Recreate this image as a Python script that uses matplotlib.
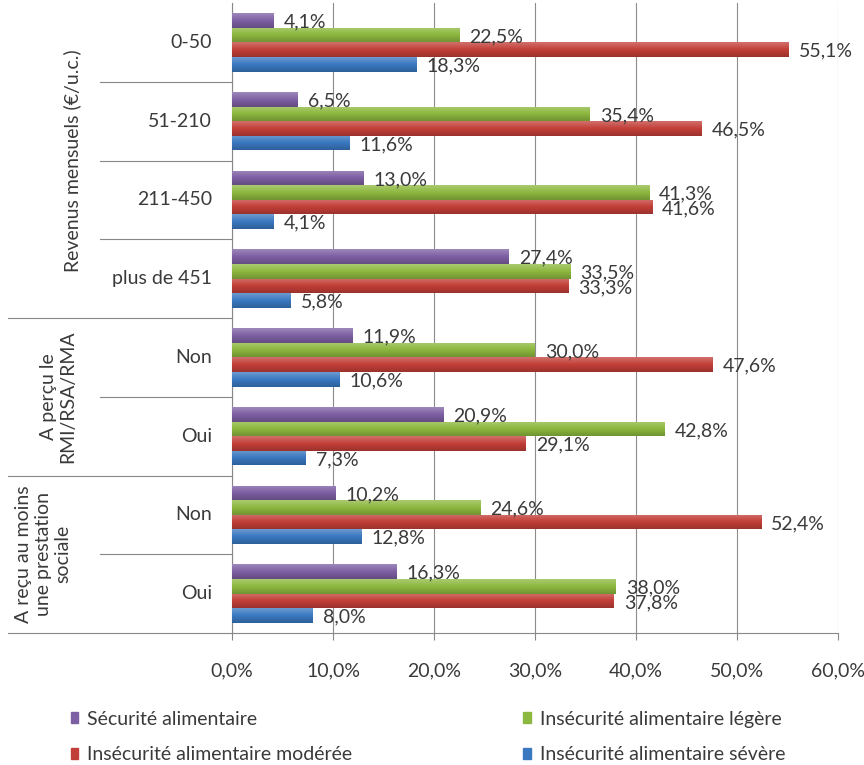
import matplotlib.pyplot as plt
import matplotlib.transforms as mtransforms
import numpy as np
from matplotlib.colors import LinearSegmentedColormap, to_rgb

plt.rcParams['font.family'] = ['Lato', 'DejaVu Sans']

# categories, top to bottom
categories = ['0-50', '51-210', '211-450', 'plus de 451', 'Non', 'Oui', 'Non', 'Oui']
series_names = ['Sécurité alimentaire', 'Insécurité alimentaire légère',
                'Insécurité alimentaire modérée', 'Insécurité alimentaire sévère']
securite = [4.1, 6.5, 13.0, 27.4, 11.9, 20.9, 10.2, 16.3]
legere = [22.5, 35.4, 41.3, 33.5, 30.0, 42.8, 24.6, 38.0]
moderee = [55.1, 46.5, 41.6, 33.3, 47.6, 29.1, 52.4, 37.8]
severe = [18.3, 11.6, 4.1, 5.8, 10.6, 7.3, 12.8, 8.0]
groups = ['Revenus mensuels (€/u.c.)', 'A perçu le\nRMI/RSA/RMA',
          'A reçu au moins\nune prestation\nsociale']
group_sizes = [4, 2, 2]
xticks = [0, 10, 20, 30, 40, 50, 60]

colors = ['#7D5FA3', '#8DB83F', '#C23F38', '#3A78C0']
values = [securite, legere, moderee, severe]
FS = 14
TXT = '#3a3a3a'

fig = plt.figure(figsize=(8.64, 7.65), dpi=100)
ax = fig.add_axes([232 / 864, 1 - 633 / 765, 606 / 864, 630 / 765])

n = len(categories)
y = np.arange(n)
bh = 0.185


def shade(c, f):
    r = np.array(to_rgb(c))
    if f > 0:
        return tuple(r + (1 - r) * f)
    return tuple(r * (1 + f))


for i, (vals, col) in enumerate(zip(values, colors)):
    pos = y + (i - 1.5) * bh
    bars = ax.barh(pos, vals, height=bh, color=col, zorder=3, edgecolor='none')
    cmap = LinearSegmentedColormap.from_list(
        'g', [shade(col, 0.25), col, shade(col, -0.2)])
    grad = np.linspace(0, 1, 32).reshape(-1, 1)
    for b, v, p in zip(bars, vals, pos):
        im = ax.imshow(grad, cmap=cmap, aspect='auto', zorder=4,
                       extent=[0, v, p + bh / 2, p - bh / 2], interpolation='bilinear')
        im.set_clip_path(b)
        ax.text(v + 1.0, p + 0.02, f'{v:.1f}'.replace('.', ',') + '%', va='center',
                ha='left', fontsize=FS, color=TXT, zorder=6)

ax.set_xlim(0, 60)
ax.set_ylim(n - 0.5, -0.5)
ax.set_xticks(xticks)
ax.set_xticklabels([f'{t:.1f}'.replace('.', ',') + '%' for t in xticks],
                   fontsize=FS, color=TXT)
ax.tick_params(axis='x', length=5, direction='out', width=0.8, color='#888888', pad=16)
ax.set_yticks([])
ax.grid(axis='x', color='#8c8c8c', linewidth=0.8, zorder=0)
for s in ['top', 'right']:
    ax.spines[s].set_visible(False)
ax.spines['left'].set_color('#888888')
ax.spines['bottom'].set_color('#888888')

trans = mtransforms.blended_transform_factory(ax.transAxes, ax.transData)
for j, c in enumerate(categories):
    ax.text(-20 / 606, j, c, transform=trans, ha='right', va='center',
            fontsize=FS, color=TXT)

# separators between categories and groups
start = 0
group_x = [72, 58, 43]
for g, size, gx in zip(groups, group_sizes, group_x):
    for k in range(start + 1, start + size):
        ax.plot([-132 / 606, 0], [k - 0.5, k - 0.5], transform=trans,
                color='#888888', linewidth=0.8, clip_on=False)
    end = start + size
    ax.plot([-224 / 606, 0], [end - 0.5, end - 0.5], transform=trans,
            color='#888888', linewidth=0.8, clip_on=False)
    ax.text((gx - 232) / 606, (start + end - 1) / 2, g, transform=trans,
            rotation=90, ha='center', va='center', multialignment='center',
            fontsize=FS, color=TXT, linespacing=1.2)
    start = end

handles = [plt.Rectangle((0, 0), 1, 1, color=c) for c in colors]
order = [0, 2, 1, 3]
fig.legend([handles[i] for i in order], [series_names[i] for i in order],
           loc='center left', bbox_to_anchor=(71 / 864, 1 - 737 / 765), ncol=2,
           frameon=False, fontsize=FS, handlelength=0.38, handleheight=0.5,
           handletextpad=0.45, columnspacing=8.8, labelspacing=0.95,
           borderpad=0, borderaxespad=0, labelcolor=TXT)

fig.savefig('out.png', dpi=100)
